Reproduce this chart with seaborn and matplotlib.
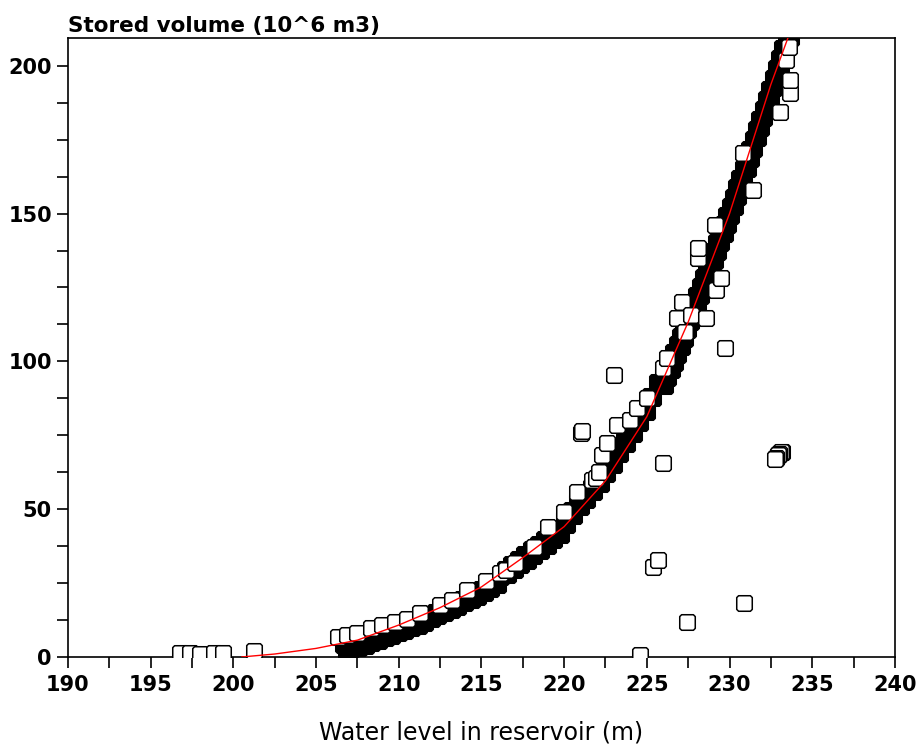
import seaborn as sns
import matplotlib.pyplot as plt
from matplotlib.path import Path
from matplotlib.ticker import MultipleLocator

# Reservoir rating: water level (m) vs stored volume (10^6 m3)

# dense band of observations (so many overlap that they read as a solid mass)
core_level = [206.6, 206.8, 207.0, 207.2, 207.4, 207.6, 207.8, 208.0, 208.2, 208.4,
              208.6, 208.8, 209.0, 209.2, 209.4, 209.6, 209.8, 210.0, 210.2, 210.4,
              210.6, 210.8, 211.0, 211.2, 211.4, 211.6, 211.8, 212.0, 212.2, 212.4,
              212.6, 212.8, 213.0, 213.2, 213.4, 213.6, 213.8, 214.0, 214.2, 214.4,
              214.6, 214.8, 215.0, 215.2, 215.4, 215.6, 215.8, 216.0, 216.2,
              216.4, 216.6, 216.8, 217.0, 217.2, 217.4, 217.6, 217.8, 218.0, 218.2,
              218.4, 218.6, 218.8, 219.0, 219.2, 219.4, 219.6, 219.8,
              220.0, 220.2, 220.4, 220.6, 220.8, 221.0, 221.2, 221.4, 221.6, 221.8,
              222.0, 222.2, 222.4, 222.6, 222.8, 223.0, 223.2, 223.4, 223.6, 223.8,
              224.0, 224.2, 224.4, 224.6, 224.8, 225.0, 225.2, 225.4, 225.6, 225.8,
              226.0, 226.1, 226.2, 226.3, 226.4, 226.5, 226.6, 226.7, 226.8, 226.9,
              227.0, 227.1, 227.2, 227.3, 227.4, 227.5, 227.6, 227.7, 227.8, 227.9,
              228.0, 228.1, 228.2, 228.3, 228.4, 228.5, 228.6, 228.7, 228.8, 228.9,
              229.0, 229.1, 229.2, 229.3, 229.4, 229.5, 229.6, 229.7, 229.8, 229.9,
              230.0, 230.1, 230.2, 230.3, 230.4, 230.5, 230.6, 230.7, 230.8, 230.9,
              231.0, 231.1, 231.2, 231.3, 231.4, 231.5, 231.6, 231.7, 231.8, 231.9,
              232.0, 232.1, 232.2, 232.3, 232.4, 232.5, 232.6, 232.7, 232.8, 232.9,
              233.0, 233.1, 233.2, 233.3, 233.4, 233.5, 233.6, 233.7, 233.8]
core_volume = [3.9, 2.1, 4.3, 2.6, 4.8, 3.0, 5.4, 3.8, 6.3, 4.7,
               7.1, 5.5, 7.9, 6.4, 8.8, 7.2, 9.6, 8.1, 10.5, 8.9,
               11.3, 9.8, 12.2, 10.6, 13.1, 11.6, 14.2, 12.7, 15.2, 13.8,
               16.3, 14.9, 17.4, 15.9, 18.5, 17.0, 19.5, 18.1, 20.6, 19.2,
               21.7, 20.4, 23.1, 21.8, 24.5, 23.1, 25.8, 24.5, 27.2,
               29.9, 27.8, 31.6, 29.5, 33.3, 31.1, 34.8, 32.6, 36.4, 34.3,
               38.1, 36.0, 39.8, 37.7, 41.6, 39.5, 43.3, 41.2,
               46.6, 44.6, 49.6, 47.7, 52.7, 50.7, 54.9, 53.2, 57.4, 55.7,
               59.9, 58.5, 63.1, 61.8, 66.4, 65.0, 69.8, 68.5, 73.3, 72.0,
               76.8, 75.6, 80.5, 79.3, 84.2, 83.0, 88.3, 87.6, 92.9, 92.2,
               95.5, 91.8, 98.1, 94.4, 100.7, 97.0, 103.3, 99.6, 105.9, 102.2,
               108.5, 104.9, 111.3, 107.7, 114.1, 110.5, 116.9, 113.3, 119.7, 116.1,
               122.5, 119.0, 125.5, 122.0, 128.5, 125.0, 131.5, 128.0, 134.5, 131.0,
               137.5, 134.0, 140.5, 137.0, 143.5, 140.0, 146.5, 143.0, 149.5, 146.0,
               152.5, 149.1, 155.7, 152.3, 158.9, 155.5, 162.1, 158.7, 165.3, 161.9,
               168.5, 165.2, 171.9, 168.6, 175.3, 172.0, 178.7, 175.4, 182.1, 178.8,
               185.5, 182.2, 188.9, 185.6, 192.3, 189.0, 195.7, 192.4, 199.1, 195.8,
               202.5, 199.2, 205.9, 202.6, 209.3, 206.0, 212.7, 209.4, 216.1]

# individually visible observations (band fringe and outliers)
fringe_level = [196.8, 197.4, 198.0, 198.8, 199.4, 201.25,
                206.3, 206.9, 207.5, 208.3, 209.0, 209.8, 210.5, 211.3, 212.5, 213.2,
                214.1, 215.3, 216.1, 216.5, 217.0, 218.2, 219.0, 220.0, 220.8, 221.7,
                221.9, 222.1, 222.3, 222.6, 223.2, 224.0, 224.4, 225.0, 226.0, 226.2,
                226.8, 227.1, 227.3, 227.7, 228.1, 228.1, 228.6, 229.1, 229.2, 229.5,
                230.8, 231.4, 233.05, 233.65, 233.65, 233.4, 233.6,
                223.0, 221.0, 221.1, 226.0, 225.4, 225.7, 227.4, 230.9, 224.6, 229.7,
                233.2, 233.1, 233.0, 232.9, 232.8, 232.75]
fringe_volume = [1.2, 1.2, 1.0, 1.3, 1.3, 2.1,
                 6.8, 7.4, 8.1, 9.8, 10.8, 11.8, 12.8, 14.9, 17.6, 19.3,
                 22.7, 25.8, 28.3, 29.4, 31.7, 37.3, 44.1, 49.2, 55.9, 59.9,
                 60.5, 62.7, 68.4, 72.3, 78.5, 80.2, 84.1, 87.5, 97.7, 101.1,
                 114.6, 120.2, 110.0, 115.7, 134.9, 138.3, 114.6, 146.2, 124.2, 128.1,
                 170.4, 158.0, 184.5, 190.8, 195.3, 202.0, 206.5,
                 95.4, 75.7, 76.5, 65.6, 30.5, 32.9, 11.9, 18.1, 0.6, 104.6,
                 69.5, 69.3, 68.8, 68.2, 67.4, 66.9]

# fitted rating curve
curve_level = [200.5, 202.5, 205.0, 207.5, 210.0, 212.5, 215.0, 217.5, 220.0,
               222.5, 225.0, 227.5, 230.0, 232.5, 233.6]
curve_volume = [0.0, 1.0, 2.9, 5.7, 10.8, 16.7, 23.7, 33.6, 44.1,
                59.6, 81.3, 113.3, 150.0, 193.7, 210.5]

sns.set_style("ticks")
plt.rcParams['font.family'] = ['DejaVu Sans']
plt.rcParams.update({'text.color': 'black', 'axes.labelcolor': 'black',
                     'xtick.color': 'black', 'ytick.color': 'black',
                     'axes.edgecolor': 'black'})

# closed square marker with clipped corners, like the original plotting symbol
corners = [(-0.5, -0.38), (-0.38, -0.5), (0.38, -0.5), (0.5, -0.38),
           (0.5, 0.38), (0.38, 0.5), (-0.38, 0.5), (-0.5, 0.38)]
box = Path(corners + [corners[0]], closed=True)

fig = plt.figure(figsize=(9.16, 7.51), dpi=100)
ax = fig.add_axes([0.0742, 0.1252, 0.9028, 0.8246])

sns.scatterplot(x=core_level, y=core_volume, marker=box, s=125, color='black',
                edgecolor='black', linewidth=1.1, ax=ax, zorder=2)
sns.scatterplot(x=fringe_level, y=fringe_volume, marker=box, s=125, color='white',
                edgecolor='black', linewidth=1.1, ax=ax, zorder=3)
sns.lineplot(x=curve_level, y=curve_volume, sort=False, color='red',
             linewidth=1.0, ax=ax, zorder=4)

ax.set_xlim(190, 240)
ax.set_ylim(0, 209.5)
ax.xaxis.set_major_locator(MultipleLocator(5))
ax.xaxis.set_minor_locator(MultipleLocator(2.5))
ax.yaxis.set_major_locator(MultipleLocator(50))
ax.yaxis.set_minor_locator(MultipleLocator(12.5))
ax.tick_params(which='both', direction='out', length=8, width=1.2,
               color='black', labelsize=15)
ax.tick_params(axis='x', pad=5)
for lab in ax.get_xticklabels() + ax.get_yticklabels():
    lab.set_fontweight('bold')
for sp in ax.spines.values():
    sp.set_visible(True)
    sp.set_linewidth(1.2)

ax.set_title('Stored volume (10^6 m3)', loc='left', fontsize=15.5,
             fontweight='bold', pad=4)
ax.set_xlabel('Water level in reservoir (m)', fontsize=17, labelpad=18)
ax.set_ylabel('')

plt.savefig('out.png', dpi=100)
